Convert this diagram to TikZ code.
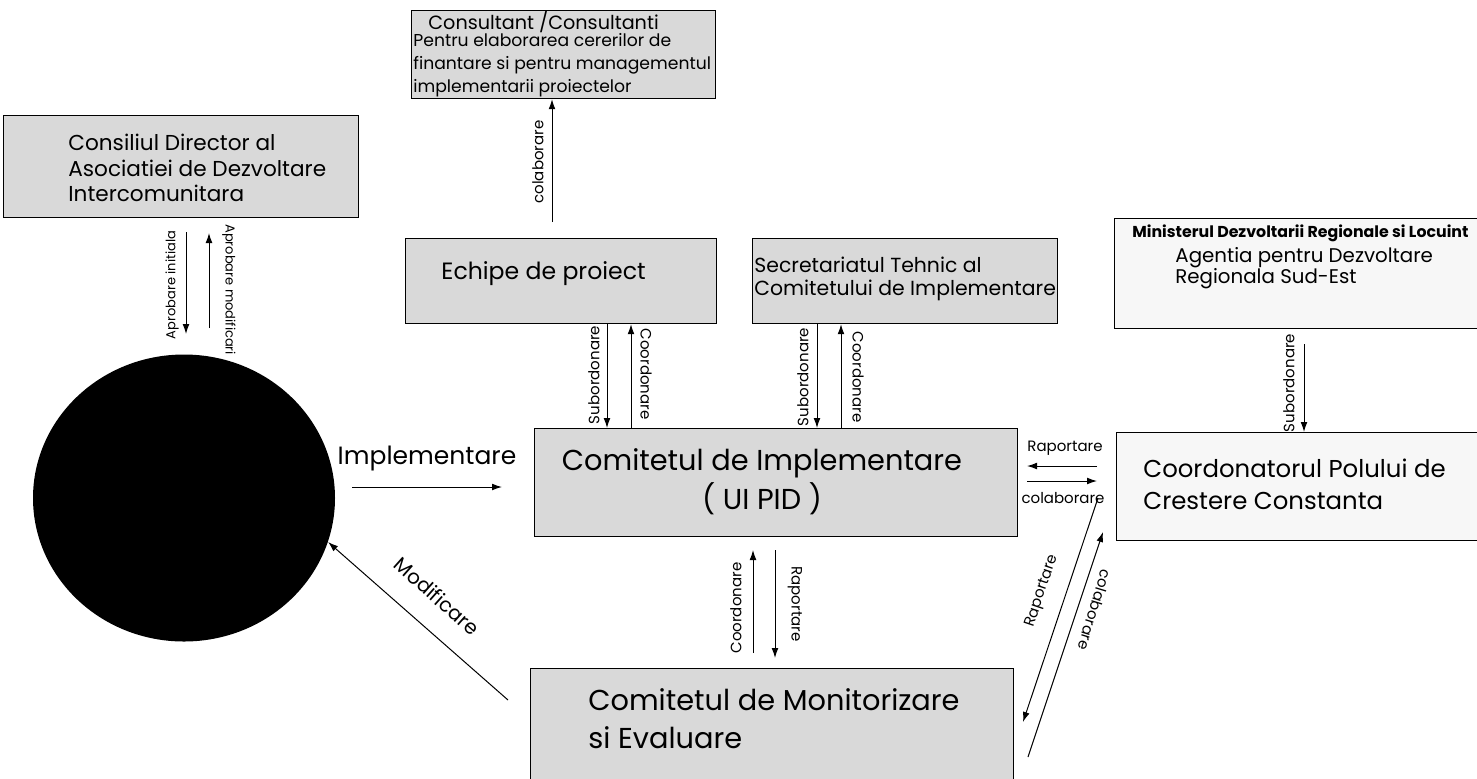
\documentclass[tikz,border=0pt]{standalone}
\usepackage{fontspec}
\setmainfont{Poppins}
\usetikzlibrary{arrows.meta,shapes.geometric}

\begin{document}
\begin{tikzpicture}[x=0.5pt, y=-0.5pt,
    box/.style={rectangle, draw=black, line width=0.6pt, fill=black!15, anchor=north west, inner sep=0pt},
    pale/.style={box, fill=black!3},
    txt/.style={anchor=west, align=left, inner sep=0pt},
    lbl/.style={inner sep=0pt, font=\fontsize{7.5}{9}\selectfont},
    arr/.style={-{Latex[length=5pt,width=3.4pt]}, line width=0.5pt}]
    \clip (0,0) rectangle (1477,778);

    % boxes
    \node[box, minimum width=152pt, minimum height=44pt] (consultant) at (411,10) {};
    \node[box, minimum width=177.5pt, minimum height=51pt] (consiliul) at (3,115) {};
    \node[box, minimum width=155.5pt, minimum height=42.5pt] (echipe) at (405,238) {};
    \node[box, minimum width=152.5pt, minimum height=42.5pt] (secretar) at (752,238) {};
    \node[pale, minimum width=200pt, minimum height=55pt] (minister) at (1114,218) {};
    \node[box, minimum width=241.5pt, minimum height=54pt] (comimp) at (534,428) {};
    \node[pale, minimum width=200pt, minimum height=54pt] (coord) at (1116,432) {};
    \node[box, minimum width=241.5pt, minimum height=75pt] (monit) at (530,668) {};

    % box texts
    \node[txt, font=\fontsize{9.6}{11}\selectfont] (consultantT) at (428,22) {Consultant /Consultanti};
    \node[txt, font=\fontsize{8.6}{11.5}\selectfont] (consultantB) at (413,65)
        {Pentru elaborarea cererilor de\\finantare si pentru managementul\\implementarii proiectelor};
    \node[txt, font=\fontsize{10.8}{12.75}\selectfont] (consiliulT) at (68,168)
        {Consiliul Director al\\Asociatiei de Dezvoltare\\Intercomunitara};
    \node[txt, font=\fontsize{11.8}{13}\selectfont] (echipeT) at (441,274) {Echipe de proiect};
    \node[txt, font=\fontsize{10.2}{11.5}\selectfont] (secretarT) at (754,279)
        {Secretariatul Tehnic al\\Comitetului de Implementare};
    \node[txt, font=\fontsize{7.9}{9}\selectfont\bfseries] (ministerT) at (1132,233)
        {Ministerul Dezvoltarii Regionale si Locuint};
    \node[txt, font=\fontsize{9.9}{10.5}\selectfont] (agentiaT) at (1175,268)
        {Agentia pentru Dezvoltare\\Regionala Sud-Est};
    \node[txt, font=\fontsize{12.2}{16}\selectfont] (coordT) at (1143,484)
        {Coordonatorul Polului de\\Crestere Constanta};
    \node[inner sep=0pt, align=center, font=\fontsize{14.4}{19.5}\selectfont] (comimpT) at (762,482)
        {Comitetul de Implementare\\( UI PID )};
    \node[txt, font=\fontsize{14.4}{19}\selectfont] (monitT) at (588,719)
        {Comitetul de Monitorizare\\si Evaluare};

    % arrow labels
    \node[lbl, rotate=90] (l1) at (538,162) {colaborare};
    \node[lbl, rotate=90, font=\fontsize{6.5}{8}\selectfont] (l2) at (172,285) {Aprobare initiala};
    \node[lbl, rotate=-90, anchor=west, font=\fontsize{6.5}{8}\selectfont] (l3) at (229,224) {Aprobare modificari};
    \node[lbl, rotate=90] (l4) at (594,375) {Subordonare};
    \node[lbl, rotate=-90] (l5) at (646,374) {Coordonare};
    \node[lbl, rotate=90] (l6) at (803,377) {Subordonare};
    \node[lbl, rotate=-90] (l7) at (858,377) {Coordonare};
    \node[lbl, rotate=90] (l8) at (1289,383) {Subordonare};
    \node[lbl, font=\fontsize{12.5}{14}\selectfont] (l9) at (427,458) {Implementare};
    \node[lbl] (l10) at (1065,448) {Raportare};
    \node[lbl] (l11) at (1063,498) {colaborare};
    \node[lbl, rotate=90] (l12) at (736,608) {Coordonare};
    \node[lbl, rotate=-90] (l13) at (795,604) {Raportare};
    \node[lbl, rotate=-41.7, font=\fontsize{10}{12}\selectfont] (l14) at (437,596) {Modificare};
    \node[lbl, rotate=71.5] (l15) at (1042,591) {Raportare};
    \node[lbl, rotate=-107] (l16) at (1095,610) {colaborare};

    % the round node
    \node[ellipse, fill=black, minimum width=151pt, minimum height=143.5pt, inner sep=0pt] (circ) at (184,498) {};

    % free ends
    \coordinate (c1) at (552,222);
    \coordinate (c2) at (352,487);
    \coordinate (c3) at (502,487);
    \coordinate (c4) at (508,700);
    \coordinate (c5) at (1098,498);
    \coordinate (c6) at (1023,722);
    \coordinate (c7) at (1028,757);
    \coordinate (c8) at (1103,532);

    % connectors
    \draw[arr] (c1) -- (consultant.south -| 552,0);
    \draw[arr] (186,232) -- (186,334);
    \draw[arr] (209,328) -- (209,233);
    \draw[arr] (echipe.south -| 607,0) -- (comimp.north -| 607,0);
    \draw[arr] (comimp.north -| 631,0) -- (echipe.south -| 631,0);
    \draw[arr] (secretar.south -| 817,0) -- (comimp.north -| 817,0);
    \draw[arr] (comimp.north -| 841,0) -- (secretar.south -| 841,0);
    \draw[arr] (minister.south -| 1304,0) ++(0,15) -- (coord.north -| 1304,0);
    \draw[arr] (c2) -- (c3);
    \draw[arr] (1097,466) -- (1027,466);
    \draw[arr] (1027,481) -- (1097,481);
    \draw[arr] (753,653) -- (753,550);
    \draw[arr] (775,550) -- (775,658);
    \draw[arr] (c4) -- (circ.-17);
    \draw[arr] (c5) -- (c6);
    \draw[arr] (c7) -- (c8);
\end{tikzpicture}
\end{document}
